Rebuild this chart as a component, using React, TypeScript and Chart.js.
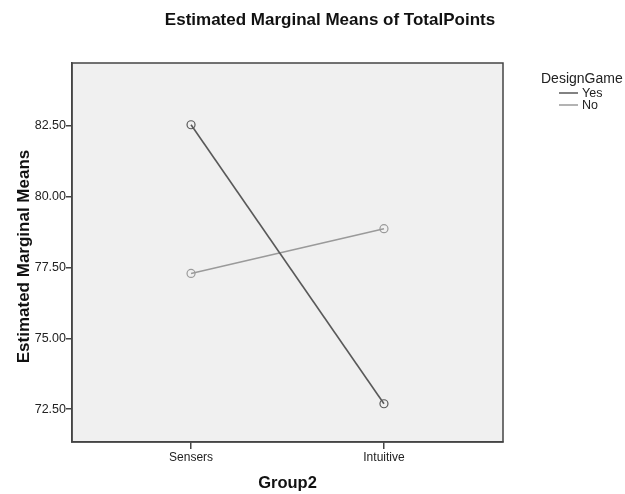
import React, { useEffect, useRef } from "react";
import { Chart, registerables } from "chart.js";

Chart.register(...registerables);

const categories = ["Sensers", "Intuitive"];
const seriesNames = ["Yes", "No"];
const yesValues = [82.54, 72.69];
const noValues = [77.29, 78.87];
const yTicks = [72.5, 75.0, 77.5, 80.0, 82.5];
const chartTitle = "Estimated Marginal Means of TotalPoints";
const xTitle = "Group2";
const yTitle = "Estimated Marginal Means";
const legendTitle = "DesignGame";

const FONT = "'Liberation Sans', Arial, sans-serif";
const YES_COLOR = "#595959";
const NO_COLOR = "#9a9a9a";

const decorPlugin = {
  id: "decor",
  beforeDraw(chart: any) {
    const { ctx, chartArea: a } = chart;
    ctx.save();
    ctx.fillStyle = "#f0f0f0";
    ctx.fillRect(a.left, a.top, a.right - a.left, a.bottom - a.top);
    ctx.restore();
  },
  afterDraw(chart: any) {
    const { ctx, chartArea: a } = chart;
    ctx.save();
    ctx.strokeStyle = "#444";
    ctx.lineWidth = 1.5;
    ctx.strokeRect(a.left, a.top, a.right - a.left, a.bottom - a.top);

    ctx.fillStyle = "#111";
    ctx.textAlign = "center";
    ctx.textBaseline = "middle";
    ctx.font = `bold 17px ${FONT}`;
    ctx.fillText(chartTitle, 330, 20);
    ctx.font = `bold 16.5px ${FONT}`;
    ctx.fillText(xTitle, (a.left + a.right) / 2, 483);
    ctx.save();
    ctx.translate(24, (a.top + a.bottom) / 2 + 4);
    ctx.rotate(-Math.PI / 2);
    ctx.font = `bold 17px ${FONT}`;
    ctx.fillText(yTitle, 0, 0);
    ctx.restore();

    ctx.textAlign = "left";
    ctx.font = `14px ${FONT}`;
    ctx.fillStyle = "#222";
    ctx.fillText(legendTitle, 541, 79);
    ctx.font = `12.5px ${FONT}`;
    const colors = [YES_COLOR, NO_COLOR];
    seriesNames.forEach((n, i) => {
      const y = 93 + i * 12;
      ctx.strokeStyle = colors[i];
      ctx.lineWidth = 1.5;
      ctx.beginPath();
      ctx.moveTo(559, y);
      ctx.lineTo(578, y);
      ctx.stroke();
      ctx.fillStyle = "#222";
      ctx.fillText(n, 582, y + 0.5);
    });
    ctx.restore();
  },
};

export default function App() {
  const ref = useRef<HTMLCanvasElement>(null);
  useEffect(() => {
    document.body.style.margin = "0";
    const mk = (vals: number[]) => vals.map((v, i) => ({ x: i, y: v }));
    const chart = new Chart(ref.current!, {
      type: "line",
      data: {
        datasets: [
          {
            label: seriesNames[0],
            data: mk(yesValues),
            borderColor: YES_COLOR,
            borderWidth: 1.6,
            pointRadius: 4,
            pointBorderWidth: 1.2,
            pointBorderColor: YES_COLOR,
            pointBackgroundColor: "rgba(0,0,0,0)",
            tension: 0,
          },
          {
            label: seriesNames[1],
            data: mk(noValues),
            borderColor: NO_COLOR,
            borderWidth: 1.4,
            pointRadius: 4,
            pointBorderWidth: 1.2,
            pointBorderColor: NO_COLOR,
            pointBackgroundColor: "rgba(0,0,0,0)",
            tension: 0,
          },
        ],
      },
      options: {
        animation: false,
        responsive: false,
        layout: { padding: { left: 0, right: 122, top: 63, bottom: 0 } },
        plugins: { legend: { display: false }, title: { display: false }, tooltip: { enabled: false } },
        scales: {
          x: {
            type: "linear",
            min: -0.617,
            max: 1.617,
            afterBuildTicks: (s: any) => {
              s.ticks = categories.map((_, i) => ({ value: i }));
            },
            afterFit: (s: any) => {
              s.height = 52;
            },
            ticks: {
              callback: (v: any) => categories[v] ?? "",
              font: { family: FONT, size: 12 },
              color: "#222",
              padding: 1,
              maxRotation: 0,
              autoSkip: false,
            },
            grid: { drawOnChartArea: false, drawTicks: true, tickLength: 7, color: "#444", lineWidth: 1.5 },
            border: { display: true, color: "#444", width: 1.5 },
          },
          y: {
            type: "linear",
            min: 71.34,
            max: 84.72,
            afterBuildTicks: (s: any) => {
              s.ticks = yTicks.map((v) => ({ value: v }));
            },
            afterFit: (s: any) => {
              s.width = 72;
            },
            ticks: {
              callback: (v: any) => Number(v).toFixed(2),
              font: { family: FONT, size: 12.5 },
              color: "#222",
              padding: 0,
              autoSkip: false,
            },
            grid: { drawOnChartArea: false, drawTicks: true, tickLength: 6, color: "#444", lineWidth: 1.5 },
            border: { display: true, color: "#444", width: 1.5 },
          },
        },
      },
      plugins: [decorPlugin],
    } as any);
    return () => chart.destroy();
  }, []);
  return (
    <div style={{ position: "fixed", left: 0, top: 0, width: 625, height: 494 }}>
      <canvas ref={ref} width={625} height={494} style={{ width: 625, height: 494 }} />
    </div>
  );
}
